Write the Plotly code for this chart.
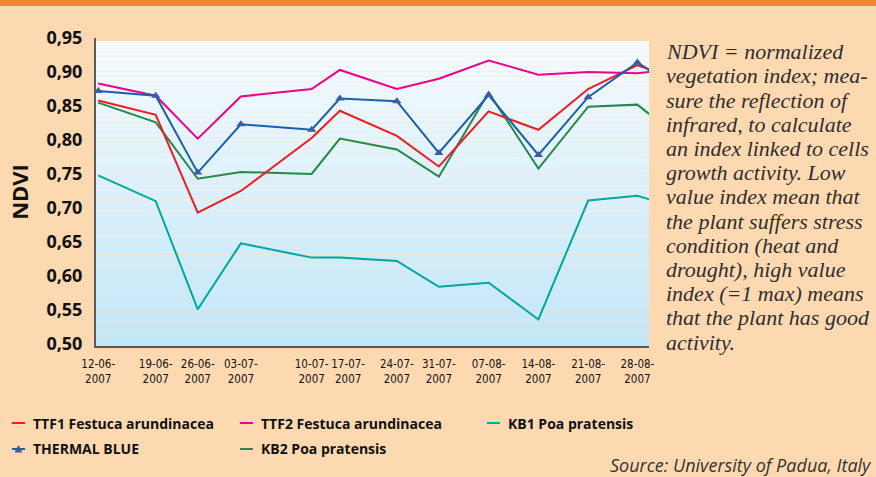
import plotly.graph_objects as go

# ---------------- data ----------------
dates = ["12-06-2007", "19-06-2007", "26-06-2007", "03-07-2007", "10-07-2007", "17-07-2007",
         "24-07-2007", "31-07-2007", "07-08-2007", "14-08-2007", "21-08-2007", "28-08-2007"]
# horizontal position of each sample on the chart's (irregular) x scale; 13th sample lies past the edge
x_pos = [0.4, 10.8, 18.4, 26.2, 39.0, 44.1, 54.4, 62.0, 71.0, 80.0, 89.0, 97.9, 107.0]

ttf1 = [0.858, 0.837, 0.693, 0.725, 0.803, 0.843, 0.806, 0.761, 0.842, 0.815, 0.875, 0.910, 0.884]
ttf2 = [0.883, 0.865, 0.802, 0.864, 0.875, 0.903, 0.875, 0.890, 0.917, 0.896, 0.900, 0.898, 0.906]
kb1 = [0.748, 0.710, 0.551, 0.648, 0.627, 0.627, 0.622, 0.584, 0.590, 0.536, 0.711, 0.718, 0.696]
thermal = [0.872, 0.865, 0.752, 0.823, 0.815, 0.861, 0.857, 0.781, 0.866, 0.778, 0.863, 0.914, 0.866]
kb2 = [0.855, 0.826, 0.743, 0.753, 0.750, 0.802, 0.786, 0.746, 0.870, 0.758, 0.849, 0.852, 0.793]

y_ticks = [0.50, 0.55, 0.60, 0.65, 0.70, 0.75, 0.80, 0.85, 0.90, 0.95]

note_lines = ["NDVI = normalized", "vegetation index; mea-", "sure the reflection of",
              "infrared, to calculate", "an index linked to cells", "growth activity. Low",
              "value index mean that", "the plant suffers stress", "condition (heat and",
              "drought), high value", "index (=1 max) means", "that the plant has good",
              "activity."]

# ---------------- style ----------------
W_FIG, H_FIG = 876, 477
L, R, T, B = 96, 649, 38, 346
PW, PH = R - L, B - T
BG = "#FDD9B2"
C_TTF1, C_TTF2, C_KB1, C_TB, C_KB2 = "#EC1C24", "#EC008C", "#00A79D", "#1B5EA9", "#22894A"
BOLD = "Open Sans"
NARROW = "Liberation Sans Narrow, DejaVu Sans Condensed, Roboto Condensed, sans-serif"


def pxx(x):
    return (x - L) / PW


def pxy(y):
    return (B - y) / PH


# tick label anchors follow the sample positions (the 17-07 label sits a little right of its point)
tick_pos = list(x_pos[:len(dates)])
tick_pos[5] = 45.6

fig = go.Figure()

series = [
    ("KB1 Poa pratensis", kb1, C_KB1, False),
    ("KB2 Poa pratensis", kb2, C_KB2, False),
    ("TTF1 Festuca arundinacea", ttf1, C_TTF1, False),
    ("TTF2 Festuca arundinacea", ttf2, C_TTF2, False),
    ("THERMAL BLUE", thermal, C_TB, True),
]
for name, vals, col, mk in series:
    fig.add_trace(go.Scatter(
        x=x_pos, y=vals, name=name, mode="lines+markers" if mk else "lines",
        line=dict(color=col, width=2),
        marker=dict(symbol="triangle-up", size=8, color="#3D5BA8") if mk else None,
        showlegend=False,
    ))

shapes = []
# gradient plot background
y_lo, y_hi = 0.497, 0.9456
n = 60
top = (245, 251, 254)
bot = (195, 230, 248)
for i in range(n):
    t = (i + 0.5) / n
    c = tuple(round(top[k] + (bot[k] - top[k]) * t) for k in range(3))
    y1 = y_hi - (y_hi - y_lo) * i / n
    y0 = y_hi - (y_hi - y_lo) * (i + 1) / n
    shapes.append(dict(type="rect", xref="x", yref="y", x0=0, x1=100, y0=y0, y1=y1,
                       fillcolor="rgb(%d,%d,%d)" % c, line=dict(width=0), layer="below"))
# top orange band
shapes.append(dict(type="rect", xref="paper", yref="paper", x0=pxx(0), x1=pxx(W_FIG),
                   y0=pxy(6), y1=pxy(0), fillcolor="#F58233", line=dict(width=0)))

annotations = []
# manual legend
leg = [
    ("TTF1 Festuca arundinacea", C_TTF1, 12, 423, False),
    ("TTF2 Festuca arundinacea", C_TTF2, 240, 423, False),
    ("KB1 Poa pratensis", C_KB1, 487, 423, False),
    ("THERMAL BLUE", C_TB, 12, 449, True),
    ("KB2 Poa pratensis", C_KB2, 240, 449, False),
]
for name, col, x0, yc, tri in leg:
    shapes.append(dict(type="line", xref="paper", yref="paper", x0=pxx(x0), x1=pxx(x0 + 13),
                       y0=pxy(yc), y1=pxy(yc), line=dict(color=col, width=2)))
    if tri:
        cx = x0 + 6.5
        path = "M %f %f L %f %f L %f %f Z" % (pxx(cx - 4), pxy(yc + 3.5), pxx(cx + 4), pxy(yc + 3.5),
                                             pxx(cx), pxy(yc - 4))
        shapes.append(dict(type="path", xref="paper", yref="paper", path=path,
                           fillcolor="#3D5BA8", line=dict(width=0)))
    annotations.append(dict(text=name, xref="paper", yref="paper", x=pxx(x0 + 19), y=pxy(yc),
                            xanchor="left", yanchor="middle", showarrow=False,
                            font=dict(family=BOLD, size=14, color="#111111", weight="bold")))

# explanatory note
for i, line in enumerate(note_lines):
    annotations.append(dict(text="<i>" + line + "</i>", xref="paper", yref="paper",
                            x=pxx(664), y=pxy(51.7 + i * 24.2),
                            xanchor="left", yanchor="middle", showarrow=False,
                            font=dict(family="Liberation Serif, Times New Roman, serif", size=22,
                                      color="#2E2E2E", style="italic")))

annotations.append(dict(text="<i>Source: University of Padua, Italy</i>", xref="paper", yref="paper",
                        x=pxx(874), y=pxy(465), xanchor="right", yanchor="middle", showarrow=False,
                        font=dict(family="Open Sans", size=18, color="#333333", style="italic")))

fig.update_layout(
    width=W_FIG, height=H_FIG,
    margin=dict(l=L, r=W_FIG - R, t=T, b=H_FIG - B, autoexpand=False),
    paper_bgcolor=BG, plot_bgcolor="rgba(0,0,0,0)",
    separators=",.",
    shapes=shapes, annotations=annotations,
    showlegend=False,
    xaxis=dict(range=[0, 100], tickvals=tick_pos,
               ticktext=[d[:6] + "<br>" + d[6:] for d in dates],
               showgrid=False, zeroline=False, showline=True, linecolor="#5A5A5A", linewidth=2,
               ticks="", ticklabelstandoff=6, tickangle=0,
               tickfont=dict(family=NARROW, size=11.5, color="#111111")),
    yaxis=dict(range=[0.497, 0.95], tickvals=y_ticks, tickformat=".2f",
               showgrid=False, zeroline=False, showline=True, linecolor="#5A5A5A", linewidth=2,
               ticks="", ticklabelstandoff=8,
               tickfont=dict(family=BOLD, size=18, color="#111111", weight="bold"),
               title=dict(text="NDVI", standoff=12,
                          font=dict(family=BOLD, size=22, color="#111111", weight="bold"))),
)

fig.write_html("out.html", config={"displayModeBar": False},
               post_script="document.body.style.margin='0';document.body.style.padding='0';")
